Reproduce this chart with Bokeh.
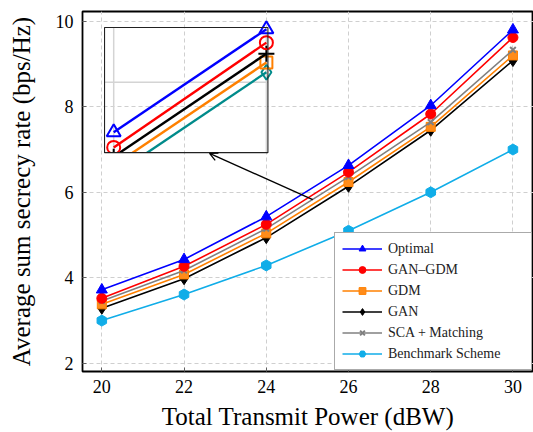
from bokeh.plotting import figure
from bokeh.models import (Range1d, FixedTicker, Legend, LegendItem, Arrow, OpenHead)
from bokeh.embed import file_html
from bokeh.resources import INLINE

# ---------------- data ----------------
power = [20, 22, 24, 26, 28, 30]
optimal = [3.72, 4.43, 5.43, 6.63, 8.03, 9.80]
gan_gdm = [3.52, 4.27, 5.25, 6.47, 7.83, 9.62]
gdm = [3.38, 4.08, 5.04, 6.24, 7.53, 9.20]
gan = [3.29, 3.98, 4.94, 6.14, 7.45, 9.08]
sca_matching = [3.46, 4.17, 5.15, 6.36, 7.64, 9.33]
benchmark = [3.00, 3.61, 4.29, 5.10, 6.00, 7.00]

x_ticks = [20, 22, 24, 26, 28, 30]
y_ticks = [2, 4, 6, 8, 10]

x_title = "Total Transmit Power (dBW)"
y_title = "Average sum secrecy rate (bps/Hz)"

# inset (zoomed view)
inset_x = [28, 30]
inset_blue = [8.14, 9.91]
inset_red = [7.88, 9.68]
inset_black = [7.72, 9.49]
inset_orange = [7.57, 9.34]
inset_teal = [7.40, 9.17]
inset_xticks = [28, 30]
inset_yticks = [9.0]
inset_src_x = (27.88, 30.02)
inset_src_y = (7.79, 9.94)
inset_box_x = (20.066, 24.04)
inset_box_y = (6.927, 9.853)

arrow_from = (25.13, 5.83)
arrow_to = (22.62, 6.91)

FONT = "Liberation Serif"
X_RANGE = (19.53, 30.5)
Y_RANGE = (1.81, 10.227)

p = figure(width=533, height=432, output_backend="svg", toolbar_location=None,
           x_range=Range1d(*X_RANGE), y_range=Range1d(*Y_RANGE),
           min_border_left=82, min_border_right=0, min_border_top=11, min_border_bottom=60)
p.background_fill_color = "white"
p.border_fill_color = "white"
p.outline_line_color = "black"
p.outline_line_width = 1.8

for ax in (p.xaxis, p.yaxis):
    ax.axis_line_color = None
    ax.major_tick_in = 4
    ax.major_tick_out = 0
    ax.major_tick_line_color = "#444444"
    ax.major_tick_line_width = 0.8
    ax.minor_tick_line_color = None
    ax.major_label_text_font = FONT
    ax.major_label_text_font_size = "18px"
    ax.major_label_text_color = "black"
    ax.axis_label_text_font = FONT
    ax.axis_label_text_font_size = "25px"
    ax.axis_label_text_font_style = "normal"
    ax.axis_label_text_color = "black"

p.xaxis.ticker = FixedTicker(ticks=x_ticks)
p.yaxis.ticker = FixedTicker(ticks=y_ticks)
p.xaxis.axis_label = x_title
p.yaxis.axis_label = y_title
p.xaxis.major_label_standoff = 8
p.yaxis.major_label_standoff = 9
p.xaxis.axis_label_standoff = 7
p.yaxis.axis_label_standoff = 18
p.xaxis.major_label_text_line_height = 0.9
p.xaxis.axis_label_text_line_height = 0.9

for g in (p.xgrid, p.ygrid):
    g.grid_line_color = "#cfcfcf"
    g.grid_line_dash = "4 3"
    g.grid_line_width = 1

LW = 1.6
r_bl = p.line(power, benchmark, line_color="#10ade8", line_width=LW)
m_bl = p.scatter(power, benchmark, marker="hex", size=11, angle=0.52,
                 fill_color="#10ade8", line_color="#10ade8")
r_gan = p.line(power, gan, line_color="black", line_width=LW)
m_gan = p.scatter(power, gan, marker="diamond", size=12, fill_color="black", line_color="black")
r_gdm = p.line(power, gdm, line_color="#ff8000", line_width=LW)
m_gdm = p.scatter(power, gdm, marker="square", size=9, fill_color="#ff8c1a", line_color="#ff8000")
r_sca = p.line(power, sca_matching, line_color="#808080", line_width=LW)
m_sca = p.scatter(power, sca_matching, marker="x", size=8, line_color="#808080", line_width=2)
r_gg = p.line(power, gan_gdm, line_color="red", line_width=LW)
m_gg = p.scatter(power, gan_gdm, marker="circle", size=10, fill_color="red", line_color="red")
r_op = p.line(power, optimal, line_color="blue", line_width=LW)
m_op = p.scatter(power, optimal, marker="triangle", size=11, fill_color="blue", line_color="blue")

# ---------------- inset ----------------
sub = p.subplot(x_source=Range1d(*inset_src_x), y_source=Range1d(*inset_src_y),
                x_target=Range1d(*inset_box_x), y_target=Range1d(*inset_box_y))
sub.segment(x0=inset_xticks, x1=inset_xticks,
            y0=[inset_src_y[0]] * len(inset_xticks), y1=[inset_src_y[1]] * len(inset_xticks),
            line_color="#d4d4d4", line_width=1.5)
sub.segment(x0=[inset_src_x[0]] * len(inset_yticks), x1=[inset_src_x[1]] * len(inset_yticks),
            y0=inset_yticks, y1=inset_yticks, line_color="#d4d4d4", line_width=1.5)
ILW = 2.4
for ys, col, mk, sz in [(inset_teal, "#008b8b", "diamond", 15),
                        (inset_orange, "#ff8000", "square", 12),
                        (inset_black, "black", "cross", 16),
                        (inset_red, "red", "circle", 13),
                        (inset_blue, "blue", "triangle", 14)]:
    sub.line(inset_x, ys, line_color=col, line_width=ILW)
    sub.scatter(inset_x, ys, marker=mk, size=sz, fill_color=None, line_color=col, line_width=2)

# white mask below the inset frame (clips the inset curves)
p.quad(left=[inset_box_x[0] + 0.01], right=[inset_box_x[0] + 1.35],
       top=[inset_box_y[0]], bottom=[inset_box_y[0] - 0.9],
       fill_color="white", line_color=None)
# inset frame
p.quad(left=[inset_box_x[0]], right=[inset_box_x[1]], top=[inset_box_y[1]], bottom=[inset_box_y[0]],
       fill_color=None, line_color="#222222", line_width=1.1)

p.add_layout(Arrow(end=OpenHead(size=8, line_width=1.3, line_color="black"),
                   x_start=arrow_from[0], y_start=arrow_from[1],
                   x_end=arrow_to[0], y_end=arrow_to[1],
                   line_color="black", line_width=1.3))

# ---------------- legend ----------------
legend = Legend(items=[
    LegendItem(label="Optimal", renderers=[r_op, m_op]),
    LegendItem(label="GAN\u2013GDM", renderers=[r_gg, m_gg]),
    LegendItem(label="GDM", renderers=[r_gdm, m_gdm]),
    LegendItem(label="GAN", renderers=[r_gan, m_gan]),
    LegendItem(label="SCA + Matching", renderers=[r_sca, m_sca]),
    LegendItem(label="Benchmark Scheme", renderers=[r_bl, m_bl]),
], location="bottom_right")
legend.label_text_font = FONT
legend.label_text_font_size = "14px"
legend.label_text_color = "#222222"
legend.glyph_width = 40
legend.glyph_height = 17
legend.label_height = 17
legend.label_width = 136
legend.label_standoff = 6
legend.spacing = 4
legend.padding = 7
legend.margin = 1
legend.border_line_color = "#555555"
legend.border_line_width = 1.2
legend.background_fill_color = "white"
legend.background_fill_alpha = 1.0
p.add_layout(legend)

open("out.html", "w").write(file_html(p, INLINE))
